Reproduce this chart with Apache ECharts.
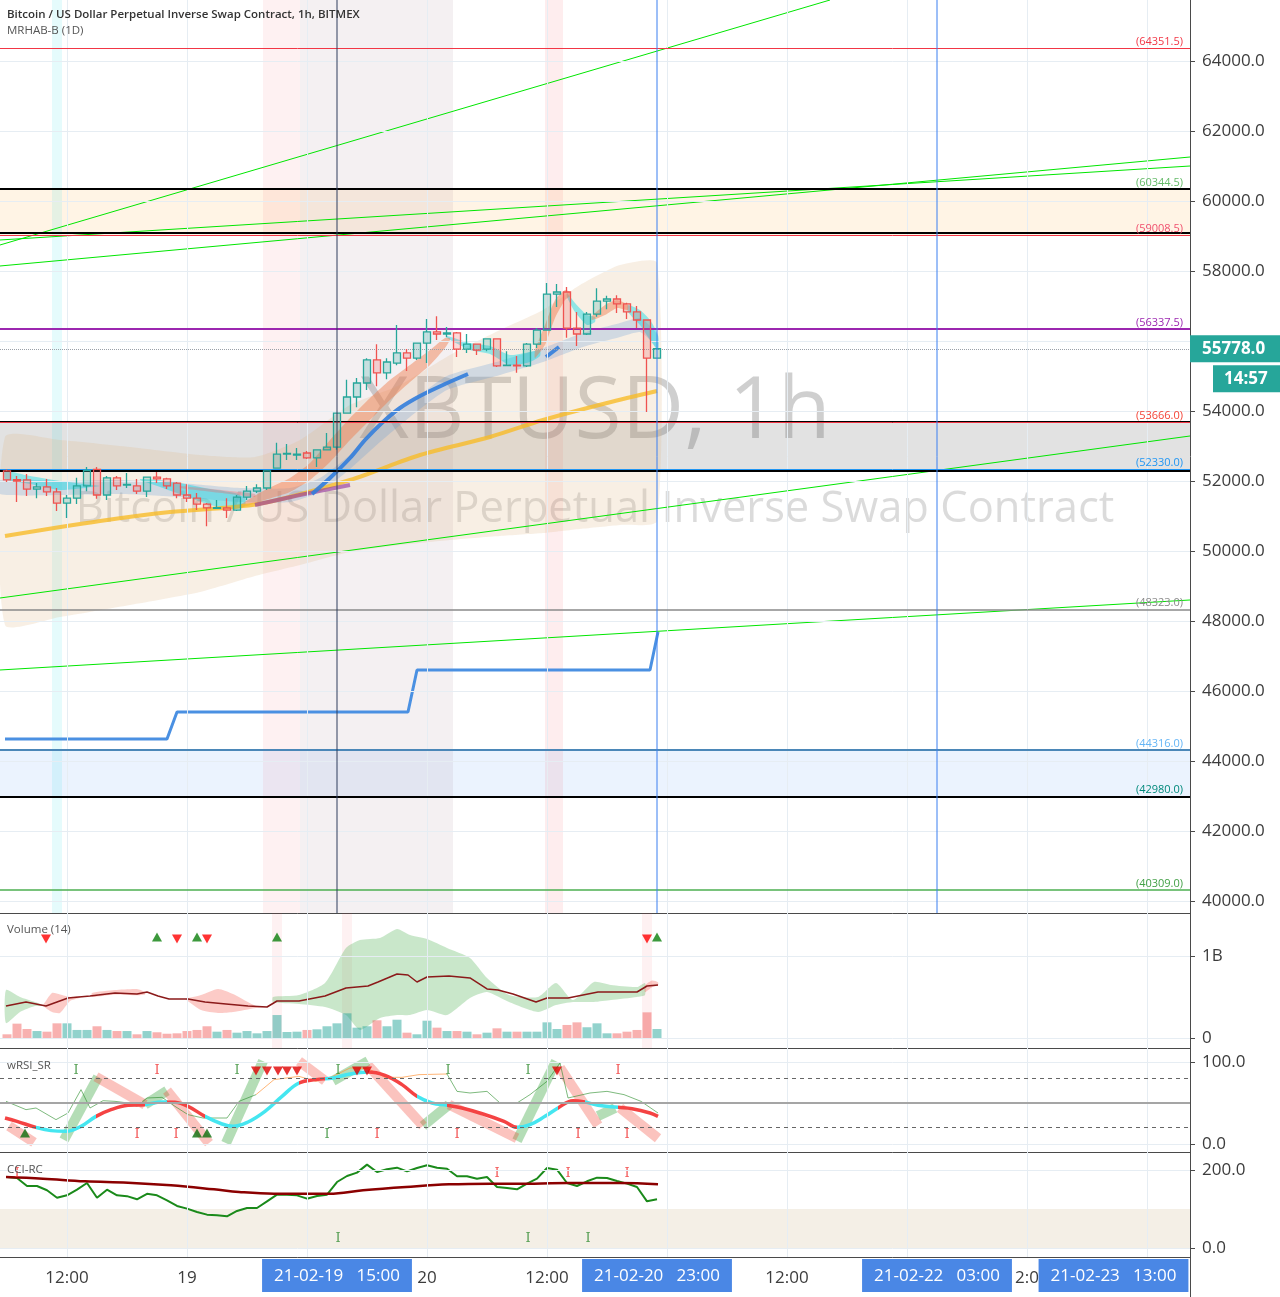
<!DOCTYPE html>
<html><head><meta charset="utf-8">
<script src="https://cdn.jsdelivr.net/npm/echarts@6/dist/echarts.min.js"></script>
<style>html,body{margin:0;padding:0;background:#fff}#c{width:1280px;height:1297px}</style>
</head><body><div id="c"></div>
<script>
// ================= DATA =================
const X_MIN = 5.3, X_MAX = 124.3;            // hours since 2021-02-18 00:00
const firstCandleHour = 6;
// [open, high, low, close]
const ohlc = [
[52290,52330,51970,52030],[52040,52140,51400,52000],[52030,52200,51570,51770],[51770,51940,51510,51830],
[51830,52060,51570,51690],[51690,51800,51140,51370],[51370,51600,50940,51510],[51510,52090,51340,51860],
[51860,52400,51710,52300],[52330,52400,51490,51600],[51600,52140,51460,52090],[52090,52140,51740,51860],
[51880,52230,51800,51900],[51860,52060,51630,51710],[51710,52120,51540,52110],[52110,52260,51940,52060],
[52060,52090,51770,51860],[51940,51970,51510,51600],[51600,51910,51400,51510],[51510,51660,51170,51340],
[51340,51370,50710,51230],[51220,51460,51200,51240],[51230,51510,50940,51170],[51170,51600,51140,51540],
[51540,51860,51460,51710],[51710,51910,51660,51800],[51800,52290,51740,52290],[52370,53090,52370,52770],
[52770,53060,52600,52790],[52740,52940,52600,52770],[52800,52860,52630,52660],[52660,52890,52400,52890],
[52890,53370,52890,52970],[52970,53940,52890,53940],[53940,54890,53940,54400],[54400,54940,54110,54800],
[54800,55510,54600,55460],[55460,55910,54710,55090],[55090,55510,54910,55400],[55370,56460,55310,55660],
[55660,55770,55140,55510],[55510,55940,55460,55940],[55940,56630,55370,56260],[56260,56710,56030,56200],
[56200,56400,56110,56230],[56230,56260,55540,55770],[55770,56200,55660,55910],[55910,55910,55600,55740],
[55770,56060,55710,56060],[56060,56060,55260,55290],[55300,55710,55290,55310],[55310,55570,55090,55290],
[55290,55940,55260,55910],[55910,56370,55800,56310],[56310,57660,56310,57340],[57340,57630,56970,57400],
[57400,57540,56090,56370],[56370,56830,55860,56200],[56200,56830,56170,56770],[56770,57510,56690,57140],
[57140,57290,56910,57200],[57200,57310,56800,57060],[57060,57090,56630,56830],[56830,57000,56370,56600],
[56600,56600,53970,55510],[55510,55800,55510,55778]];
const lastPrice = 55778.0, lastPriceTimer = '14:57';
const volumesM = [45,175,110,85,77,179,179,98,98,143,98,85,85,45,85,70,52,57,85,98,143,77,98,65,85,57,85,280,73,77,
98,106,143,179,301,126,143,216,143,223,65,45,211,126,85,85,77,45,65,118,77,77,77,77,191,110,159,191,131,179,57,57,77,98,313,110];

const priceTicks = [40000,42000,44000,46000,48000,50000,52000,54000,56000,58000,60000,62000,64000];
const priceTickLabelsShown = [40000,42000,44000,46000,48000,50000,52000,54000,58000,60000,62000,64000]; // 56000 sits under the last-price tag
const volTicks = [0, 1e9], volTickLabels = ['0','1B'];
const rsiTicks = [0, 100], cciTicks = [0, 200];
const xTickHours = [12,24,36,48,60,72,84,96,108,120];
const xTickLabels = ['12:00','19','12:00','20','12:00','21','12:00','22','12:00','23'];
const markedTimes = [[39,'21-02-19   15:00'],[71,'21-02-20   23:00'],[99,'21-02-22   03:00'],[116.65,'21-02-23   13:00']];
const verticalLineHours = [39, 71, 99];

// horizontal levels
const levelValues = [64351.5, 60344.5, 59008.5, 56337.5, 53666.0, 52330.0, 48323.0, 44316.0, 42980.0, 40309.0];
const zoneRanges = [[59008.5, 60344.5], [52330.0, 53666.0], [42980.0, 44316.0]];
const zoneEdges = [60344.5, 59090, 53700, 52290, 44330, 42980];
const mainBandHours = [[10.5,11.5],[31.6,35.3],[35.3,50.6],[59.8,61.6]];
const volBandHours = [[32.5,33.5],[39.5,40.5],[69.5,70.5]];

// green trend lines [[h,p],[h,p]]
const trendLines = [
 [[5.3,58743],[88.3,65743]],
 [[5.3,58886],[124.3,61000]],
 [[5.3,58143],[124.3,61257]],
 [[5.3,48657],[124.3,53286]],
 [[5.3,46600],[124.3,48600]]];

// overlay indicator lines [h, price]
const yellowMA = [[5.8,50429],[15.3,50857],[22.3,51114],[31.1,51343],[40.3,52029],[47.3,52743],[54.3,53257],[59.6,53743],[66,54229],[71,54571]];
const purpleMA = [[30.8,51314],[35.3,51600],[40.3,51886]];
const blueMA = [[36.5,51629],[38.3,52086],[40.3,52657],[41.8,53171],[43.6,53686],[45.3,54086],[47.3,54429],[49.8,54771],[52.1,55057]];
const blueMA2 = [[59.9,55543],[61.2,55829]];
const htfStep = [[5.8,44629],[22,44629],[23,45400],[46.1,45400],[47,46600],[70.3,46600],[71.1,47686]];
// bands [h, upper, lower]
const envelope = [[5.8,53257,47886],[11.3,53171,48114],[18.3,52971,48457],[25.3,52743,48829],[30.8,52686,49286],
 [35.3,53171,49600],[40.3,54171,49971],[45.3,54743,50171],[50.3,55600,50314],[55.3,56314,50429],[59.6,56886,50514],
 [63.3,57600,50629],[67.3,58171,50743],[71,58229,50857]];
const slowBand = [[5.3,52029,51629],[11.3,52000,51600],[17.3,52029,51629],[23.3,51943,51543],[29.3,51800,51400],
 [34.3,51800,51400],[37.3,52086,51686],[40.3,52743,52343],[43.3,53514,53114],[46.3,54229,53829],[50,55000,54600],
 [55.3,55429,55029],[59.6,55800,55400],[63.6,56229,55829],[67.3,56514,56114],[69.3,56657,56257],[70.5,56371,55971],[71.1,56143,55743]];
const ribbonsBear = [
 [[5.8,52286,52057],[8.3,52143,51914],[11.3,52000,51743],[13.8,51914,51800],[15.3,51857,51857]],
 [[19.3,52057,52029],[21.3,52029,51829],[23.8,51914,51571],[26.3,51771,51314],[28.8,51657,51200],[29.8,51514,51286]],
 [[50,56143,56086],[52.3,55943,55743],[54.3,55857,55629],[56.3,55600,55314],[58.3,55686,55400],[59.3,55743,55571]],
 [[62,57371,57257],[62.8,57086,56829],[64,56743,56457],[64.8,56686,56543]],
 [[68.1,57029,56829],[69.3,56886,56457],[70.3,56600,56029],[71.1,56171,55743]]];
const ribbonsBull = [
 [[29.3,51314,51229],[31.8,51743,51457],[34.3,52086,51686],[36.3,52514,52029],[38.3,53171,52543],[40.3,53800,53171],
  [42.3,54371,53743],[44.3,54886,54314],[46.3,55314,54829],[48.3,55743,55314],[49.8,56086,55800],[50.3,56086,56029]],
 [[58.8,55743,55514],[59.8,56457,55886],[60.8,57171,56657],[61.8,57457,57171],[62.3,57400,57286]],
 [[64.5,56714,56600],[65.8,57029,56743],[67,57171,56943],[68.1,57029,56886]]];
const ribbonSalmon = [[23.3,51857,51800],[28.3,51714,51629],[30.8,51629,51543]];

// volume pane
const volMA = [[5.9,390],[7.9,439],[9.9,390],[12.1,488],[14.3,512],[16.8,549],[19,537],[20,561],[21.1,512],[22.2,476],
 [24.1,476],[25.8,439],[27.9,415],[30.1,390],[32,378],[33,451],[35.2,451],[37.8,512],[39.9,610],[42.1,634],[43.1,683],
 [45,780],[46.1,768],[47,683],[48,744],[50.2,756],[52.3,732],[54,598],[55.1,585],[56.6,537],[58.9,439],[60,488],
 [62.1,488],[65.1,561],[69,561],[70,634],[71.1,646]];
const volBandsUp = [
 [[5.9,585,183],[7.3,500,317],[8.8,439,390],[9.6,402,390]],
 [[32.6,500,439],[35.2,524,415],[37.8,671,378],[39.9,1098,280],[41.3,1195,98],[43.3,1220,244],[45,1329,280],
  [46.3,1256,280],[48,1207,341],[50,1098,280],[52.3,976,488],[54,732,561],[56.2,524,439],[59.1,500,317],
  [60.9,671,402],[62.6,463,439],[64.7,683,439],[66.4,646,463],[69,622,500],[69.8,671,524]]];
const volBandsDown = [
 [[9.6,400,390],[10.5,549,317],[11.3,530,305],[12.3,500,450],[13.3,512,490]],
 [[14.5,549,500],[16.8,585,530],[19,598,520],[19.8,561,530]],
 [[23.8,476,476],[25.4,524,341],[27.1,598,305],[28.6,537,317],[30.9,390,366],[32,378,378]],
 [[69.8,640,560],[70.5,700,620],[71.1,680,640]]];
const volSignalsUp = [21, 25, 33, 71];
const volSignalsDown = [9.9, 23, 26, 70];

// wRSI pane
const wrsi = [[5.8,31.7],[7,27.6],[8.9,20.3],[10.4,16.3],[11.9,15.4],[13.4,21.5],[14.9,33.7],[16.4,41.9],[18.1,47.2],
 [19.8,48],[21.5,51.2],[22.8,50.8],[24.1,45.9],[25.8,33.7],[27.5,24.4],[28.6,21.5],[30.1,26.8],[31.8,39.8],[33.5,58.1],
 [35.2,74.4],[36.9,78.5],[38.6,80.5],[40.3,85.4],[42.1,87.8],[43.8,83.7],[45.5,72.4],[47,58.1],[48.5,50],[50,47.2],
 [51.5,43.9],[53.6,36.6],[55.7,27.6],[57,20.3],[58.3,23.6],[59.8,33.7],[61.1,43.9],[62.6,52.8],[63.8,51.2],[65.1,47.2],
 [67.1,44.7],[68.5,43.1],[70.3,37.8],[71.1,33.7]];
const wrsiStates = [[5,8.9,'dn'],[8.9,14.9,'up'],[14.9,19.8,'dn'],[19.8,22,'up'],[22,25.8,'dn'],[25.8,35.2,'up'],
 [35.2,37.8,'dn'],[37.8,42.1,'up'],[42.1,47,'dn'],[47,50,'up'],[50,57,'dn'],[57,61.1,'up'],[61.1,63.8,'dn'],
 [63.8,67.1,'up'],[67.1,72,'dn']];
const wrsiThinGreen1 = [[5.9,52],[7.9,41.9],[8.9,43.9],[10.9,29.7],[12.1,37.8],[13.4,66.3],[14.3,43.9],[15.6,52.8],
 [16.8,52],[18.1,50],[19,45.9],[20,56.1],[21.5,56.9],[22.8,45.9],[24.1,35.8],[25.6,31.7],[28,31.7],[29.2,52],[30.9,60.2]];
const wrsiThinOrange = [[30.9,60.2],[32.7,78.5],[35.2,82.5],[36.9,76.4],[38.6,82.5],[40.3,92.7],[42.1,91.9],[43.8,81.3],
 [45.5,81.3],[47.2,84.6],[50,85.4]];
const wrsiThinGreen2 = [[50,85.4],[51,64.2],[52.3,62.2],[54,64.2],[55.3,50],[57,50],[58.3,60.2],[60,76.4],[61.3,98.8],
 [62.1,56.1],[64.3,62.2],[66,64.2],[67.7,60.2],[69.4,52],[71.1,37.8]];
const wrsiRibbonsUp = [[[11.7,5],[15.1,82]],[[19.8,48],[22,65]],[[27.9,1],[31.6,101]],[[38.6,77],[42.1,101]],
 [[47.6,22],[50.2,48]],[[57,4],[60.9,101]],[[65.1,34],[66.8,44]]];
const wrsiRibbonsDown = [[[6.2,22],[8.7,2]],[[14.9,82],[19.8,48]],[[22,65],[26.2,1]],[[35.2,101],[37.8,77]],
 [[42.1,96],[47.6,22]],[[50.2,48],[57,7]],[[61.3,93],[65.1,23]],[[67.3,44],[71.1,7]]];
const wrsiLevels = {upper:80, mid:50, lower:20};
const wrsiTriUp = [7.8, 25, 26];
const wrsiTriDown = [30.9, 32, 33.1, 34, 35, 41, 42, 61];
const wrsiTopGreenI = [12.9, 29, 39.1, 50.1, 58.1];
const wrsiTopRedI = [21, 67.1];
const wrsiBotRedI = [19, 22.9, 43, 51, 63.1, 68];
const wrsiBotGreenI = [38];

// CCI pane
const cciGreen = [182,179.5,159,159,148,129,135,149.6,166.7,129,149.6,135,133,124.8,139,135,122,107.7,100.9,92.3,
 85.5,83.8,81.2,94.9,102.6,102.6,119.7,136.8,136.8,135,126.5,133.3,136.8,169.2,184.6,193.2,213.7,194.9,201.7,206,
 196.6,205.1,212,206,203.4,183.8,183.8,177.8,182,156.4,153.8,150.4,165,177.8,205.1,200.8,166.7,159,171,180.3,
 179.5,171.8,165,156.4,119.7,124.8];
const cciSignal = [[5.9,182],[9.6,177.8],[13.8,170.9],[18.1,167.5],[22.4,160.7],[26.7,150.4],[29.2,143.6],[32.7,139.3],
 [35.2,139.3],[38.2,139.3],[41.6,148],[45.9,156.4],[50.2,163.2],[54.4,165],[58.7,165],[62.1,166.7],[67.3,166.7],[71.1,163.2]];
const cciZone = [0, 100];
const cciTopRedI = [7, 55, 62.1, 68];
const cciBotGreenI = [39.1, 58.1, 64.1];

// ================= CHART =================
const FONT = '"Open Sans","Noto Sans",Arial,sans-serif';
const C_UP = '#26a69a', C_DN = '#ef5350';
const NONE = 'rgba(0,0,0,0)';
const candleHours = ohlc.map((_, i) => firstCandleHour + i);
const yRanges = [[39657, 65743], [-0.12195e9, 1.5244e9], [-9.756, 117.07], [-23.08, 246.15]];
const grids = [
  {left:0, right:90, top:0, height:913},
  {left:0, right:90, top:913, height:135},
  {left:0, right:90, top:1048, height:104},
  {left:0, right:90, top:1152, height:105}];
grids.forEach(g => { g.outerBoundsMode = 'none'; g.containLabel = false; });

function xAx(i) {
  return {type:'value', gridIndex:i, min:X_MIN, max:X_MAX,
    axisLine:{show:true, onZero:false, lineStyle:{color:'#4a4a4a', width:1}},
    axisTick:{show:false}, splitLine:{show:false},
    axisLabel: i === 3 ? {show:true, customValues:xTickHours,
      formatter:v => xTickLabels[xTickHours.indexOf(Math.round(v))] || '',
      color:'#3c3c3c', fontSize:17, fontFamily:FONT, margin:13} : {show:false}};
}
function yAx(i, ticks, labelTicks, fmt) {
  return {type:'value', gridIndex:i, position:'right', min:yRanges[i][0], max:yRanges[i][1],
    axisLine:{show:true, onZero:false, lineStyle:{color:'#4a4a4a', width:1}},
    axisTick:{show:true, customValues:ticks, length:5, lineStyle:{color:'#4a4a4a'}},
    axisLabel:{show:true, customValues:labelTicks, formatter:fmt, color:'#3c3c3c', fontSize:17, fontFamily:FONT, margin:12},
    splitLine:{show:false}};
}
const GRIDLINE = {color:'#e6edf3', width:1, type:'solid'};
const S = [];
function base(i, z, extra) {
  return Object.assign({type:'line', xAxisIndex:i, yAxisIndex:i, data:[[X_MIN, yRanges[i][0]]], symbol:'none',
    lineStyle:{color:NONE, width:0}, silent:true, z:z}, extra);
}
function gridLines(i, yVals) {
  return {silent:true, symbol:['none','none'], lineStyle:GRIDLINE, label:{show:false}, animation:false,
    data: xTickHours.map(h => ({xAxis:h})).concat(yVals.map(v => ({yAxis:v})))};
}
function band(i, pts, color, z) {
  return {type:'custom', xAxisIndex:i, yAxisIndex:i, z:z, silent:true, clip:true,
    data: pts.map(p => [p[0], p[1], p[2]]), encode:{x:0, y:[1,2]},
    renderItem:(params, api) => {
      if (params.dataIndex !== 0) return null;
      const top = pts.map(p => api.coord([p[0], p[1]]));
      const bot = pts.map(p => api.coord([p[0], p[2]])).reverse();
      return {type:'polygon', shape:{points: top.concat(bot), smooth:0.2}, style:{fill:color}};
    }};
}
function line(i, data, color, width, z, extra) {
  const ls = {width:width, cap:'butt'};
  if (color) ls.color = color;
  return Object.assign({type:'line', xAxisIndex:i, yAxisIndex:i, data:data, symbol:'none', silent:true, z:z,
    lineStyle:ls}, extra || {});
}
function marks(i, hours, yv, glyph, color, z, size) {
  const isTri = glyph === 'up' || glyph === 'down';
  return {type:'scatter', xAxisIndex:i, yAxisIndex:i, z:z, silent:true,
    data: hours.map(h => [h, yv]),
    symbol: isTri ? 'triangle' : 'rect', symbolSize: isTri ? (size || [10,9]) : 1,
    symbolRotate: glyph === 'down' ? 180 : 0,
    itemStyle:{color: isTri ? color : NONE},
    label: isTri ? {show:false} : {show:true, position:'inside', formatter:'I', color:color,
      fontSize:13, fontFamily:'"DejaVu Serif","Liberation Serif",serif'}};
}

// ---- main pane ----
const zoneColors = ['rgba(255,152,0,0.10)', 'rgba(110,110,110,0.20)', 'rgba(33,120,243,0.09)'];
const bandColors = ['rgba(0,220,230,0.10)', 'rgba(242,54,69,0.07)', 'rgba(170,140,155,0.13)', 'rgba(242,54,69,0.09)'];
S.push(base(0, 0, {
  markArea:{silent:true, data:
    zoneRanges.map((r,k) => [{yAxis:r[0], itemStyle:{color:zoneColors[k]}}, {yAxis:r[1]}])
    .concat(mainBandHours.map((b,k) => [{xAxis:b[0], itemStyle:{color:bandColors[k]}}, {xAxis:b[1]}]))},
  markLine: gridLines(0, priceTicks)}));
S.push(band(0, envelope, 'rgba(225,180,130,0.22)', 1));
S.push(band(0, slowBand, 'rgba(90,150,215,0.25)', 1));
ribbonsBear.forEach(r => S.push(band(0, r, 'rgba(0,215,230,0.42)', 1)));
ribbonsBull.forEach(r => S.push(band(0, r, 'rgba(240,120,70,0.45)', 1)));
S.push(band(0, ribbonSalmon, 'rgba(240,100,100,0.35)', 1));
trendLines.forEach(t => S.push(line(0, t, '#00e600', 1, 2)));
S.push(line(0, yellowMA, 'rgba(247,188,40,0.8)', 4, 2, {smooth:0.3}));
S.push(line(0, purpleMA, 'rgba(150,60,160,0.65)', 4, 2, {smooth:0.3}));
S.push(line(0, blueMA, 'rgba(50,125,220,0.9)', 4, 2, {smooth:0.3}));
S.push(line(0, blueMA2, 'rgba(50,125,220,0.9)', 4, 2));
S.push(line(0, htfStep, '#4a90e2', 3, 2));
// vertical marker lines, drawn through the time scale over the full price range
const vLineColors = ['#2f3d5c', '#3a7ff0', '#3a7ff0'];
verticalLineHours.forEach((h,k) => S.push(line(0, [[h, yRanges[0][0]], [h, yRanges[0][1]]], vLineColors[k], 1, 6)));
// levels
const levelLabelColors = ['#f23645','#66bb6a','#f0506e','#9c27b0','#f44336','#2196f3','#8a8a8a','#64b5f6','#00897b','#43a047'];
const levelLineColors = ['#f23645',null,'#f23645','#9c27b0','#f23645','#2196f3','#8a8a8a','#64b5f6',null,'#4caf50'];
const levelLineWidths = [1,1,1,2,1,1,1.5,1.5,1,1.5];
const levelItems = levelValues.map((v,k) => ({yAxis:v,
  lineStyle:{color: levelLineColors[k] || NONE, width: levelLineWidths[k], type:'solid'},
  label:{show:true, position:'insideEndTop', formatter:'(' + v.toFixed(1) + ')', color:levelLabelColors[k],
    fontSize:11, fontFamily:FONT, distance:[7,1]}}));
const edgeItems = zoneEdges.map(v => ({yAxis:v, lineStyle:{color:'#000', width:2, type:'solid'}, label:{show:false}}));
S.push(base(0, 6, {markLine:{silent:true, symbol:['none','none'], animation:false,
  data: edgeItems.concat(levelItems)}}));
// candles
S.push({type:'candlestick', xAxisIndex:0, yAxisIndex:0, z:5, barWidth:7, silent:true,
  dimensions:['h','open','close','low','high'], encode:{x:'h', y:['open','close','low','high']},
  data: ohlc.map((d,i) => [candleHours[i], d[0], d[3], d[2], d[1]]),
  itemStyle:{color:'rgba(38,166,154,0.22)', color0:'rgba(239,83,80,0.22)', borderColor:C_UP, borderColor0:C_DN, borderWidth:1.3},
  markLine:{silent:true, symbol:['none','none'], animation:false, data:[
    {yAxis:lastPrice, lineStyle:{color:'#9aa0a8', type:'dotted', width:1},
     label:{show:true, position:'end', distance:0, formatter:lastPrice.toFixed(1), backgroundColor:C_UP, color:'#fff',
       fontSize:17, fontWeight:'bold', fontFamily:FONT, lineHeight:19, padding:[4,15,4,12]}},
    {yAxis:lastPrice, lineStyle:{color:NONE, width:0},
     label:{show:true, position:'end', distance:0, offset:[23,30], formatter:lastPriceTimer, backgroundColor:C_UP, color:'#fff',
       fontSize:17, fontWeight:'bold', fontFamily:FONT, lineHeight:19, padding:[4,13,4,11]}}]}});

// ---- volume pane ----
S.push(base(1, 0, {
  markArea:{silent:true, data: volBandHours.map(b => [{xAxis:b[0], itemStyle:{color:'rgba(242,54,69,0.07)'}}, {xAxis:b[1]}])},
  markLine: gridLines(1, volTicks)}));
const volToUnits = arr => arr.map(p => [p[0], p[1]*1e6, p[2]*1e6]);
volBandsUp.forEach(b => S.push(band(1, volToUnits(b), 'rgba(76,175,80,0.30)', 1)));
volBandsDown.forEach(b => S.push(band(1, volToUnits(b), 'rgba(244,67,54,0.28)', 1)));
S.push({type:'bar', xAxisIndex:1, yAxisIndex:1, barWidth:9, z:2, silent:true,
  data: volumesM.map((v,i) => ({value:[candleHours[i], v*1e6],
    itemStyle:{color: ohlc[i][3] >= ohlc[i][0] ? 'rgba(38,166,154,0.5)' : 'rgba(239,83,80,0.45)'}}))});
S.push(line(1, volMA.map(p => [p[0], p[1]*1e6]), '#8b1a1a', 1.5, 3));
S.push(marks(1, volSignalsUp, 1.232e9, 'up', '#0b800b', 4));
S.push(marks(1, volSignalsDown, 1.207e9, 'down', '#ff0000', 4));

// ---- wRSI pane ----
S.push(base(2, 0, {markLine: gridLines(2, rsiTicks)}));
S.push(base(2, 1, {markLine:{silent:true, symbol:['none','none'], label:{show:false}, animation:false, data:[
  {yAxis:wrsiLevels.upper, lineStyle:{color:'#666', type:[4,4], width:1}},
  {yAxis:wrsiLevels.lower, lineStyle:{color:'#666', type:[4,4], width:1}},
  {yAxis:wrsiLevels.mid, lineStyle:{color:'#a5a5a5', type:'solid', width:2}}]}}));
wrsiRibbonsUp.forEach(r => S.push(line(2, r, 'rgba(76,175,80,0.42)', 10, 1)));
wrsiRibbonsDown.forEach(r => S.push(line(2, r, 'rgba(244,67,54,0.32)', 10, 1)));
S.push(line(2, wrsiThinGreen1, 'rgba(40,140,40,0.6)', 1, 2));
S.push(line(2, wrsiThinOrange, 'rgba(255,150,60,0.7)', 1, 2));
S.push(line(2, wrsiThinGreen2, 'rgba(40,140,40,0.6)', 1, 2));
const wrsiIdx = S.length;
S.push(line(2, wrsi, null, 3.5, 3, {smooth:0.4}));
S.push(marks(2, wrsiTriUp, 13.4, 'up', '#0b6e0b', 4));
S.push(marks(2, wrsiTriDown, 89, 'down', '#e00000', 4));
S.push(marks(2, wrsiTopGreenI, 89, 'I', '#2e8b2e', 4));
S.push(marks(2, wrsiTopRedI, 89, 'I', '#f03030', 4));
S.push(marks(2, wrsiBotRedI, 12, 'I', '#f03030', 4));
S.push(marks(2, wrsiBotGreenI, 12, 'I', '#2e8b2e', 4));

// ---- CCI pane ----
S.push(base(3, 0, {
  markArea:{silent:true, data:[[{yAxis:cciZone[0], itemStyle:{color:'rgba(200,175,130,0.2)'}}, {yAxis:cciZone[1]}]]},
  markLine: gridLines(3, cciTicks)}));
S.push(line(3, cciGreen.map((v,i) => [candleHours[i], v]), '#1a8a1a', 2, 3));
S.push(line(3, cciSignal, '#8b0000', 2.5, 3, {smooth:0.4}));
S.push(marks(3, cciTopRedI, 190, 'I', '#f03030', 4));
S.push(marks(3, cciBotGreenI, 23, 'I', '#2e8b2e', 4));
// time-axis highlight labels
S.push(base(3, 8, {markLine:{silent:true, symbol:['none','none'], animation:false,
  data: markedTimes.map(m => ({xAxis:m[0], lineStyle:{color:NONE, width:0},
    label:{show:true, position:'start', distance:2, formatter:m[1], backgroundColor:'#4a87e5', color:'#fff',
      fontSize:17, fontFamily:FONT, lineHeight:20, padding:[7,12,6,12]}}))}}));

const graphic = [
  {type:'text', x:595, y:413, z:0, silent:true, style:{text:'XBTUSD, 1h', font:'86px "Open Sans"', fill:'rgba(110,110,110,0.33)', align:'center', verticalAlign:'middle'}},
  {type:'text', x:595, y:510, z:0, silent:true, style:{text:'Bitcoin / US Dollar Perpetual Inverse Swap Contract', font:'43.5px "Open Sans"', fill:'rgba(110,110,110,0.25)', align:'center', verticalAlign:'middle'}},
  {type:'text', x:7, y:15, z:100, silent:true, style:{text:'Bitcoin / US Dollar Perpetual Inverse Swap Contract, 1h, BITMEX', font:'600 11.5px "Open Sans"', fill:'#333', verticalAlign:'middle'}},
  {type:'text', x:7, y:31, z:100, silent:true, style:{text:'MRHAB-B (1D)', font:'11.5px "Open Sans"', fill:'#555', verticalAlign:'middle'}},
  {type:'text', x:7, y:930, z:100, silent:true, style:{text:'Volume (14)', font:'11.5px "Open Sans"', fill:'#555', verticalAlign:'middle'}},
  {type:'text', x:7, y:1066, z:100, silent:true, style:{text:'wRSI_SR', font:'11.5px "Open Sans"', fill:'#555', verticalAlign:'middle'}},
  {type:'text', x:7, y:1170, z:100, silent:true, style:{text:'CCI-RC', font:'11.5px "Open Sans"', fill:'#555', verticalAlign:'middle'}},
  {type:'line', z:100, silent:true, shape:{x1:1190.5, y1:1257, x2:1190.5, y2:1297}, style:{stroke:'#4a4a4a', lineWidth:1}}
];

const chart = echarts.init(document.getElementById('c'), null, {renderer:'canvas'});
chart.setOption({
  animation:false, backgroundColor:'#ffffff',
  grid: grids,
  xAxis: [0,1,2,3].map(xAx),
  yAxis: [
    yAx(0, priceTicks, priceTickLabelsShown, v => v.toFixed(1)),
    yAx(1, volTicks, volTicks, v => volTickLabels[volTicks.indexOf(v)] || ''),
    yAx(2, rsiTicks, rsiTicks, v => v.toFixed(1)),
    yAx(3, cciTicks, cciTicks, v => v.toFixed(1))],
  visualMap:[{type:'piecewise', show:false, seriesIndex:wrsiIdx, dimension:0,
    pieces: wrsiStates.map(s => ({gte:s[0], lt:s[1], color: s[2] === 'up' ? '#45e6f0' : '#f44343'}))}],
  graphic: graphic,
  series: S
});
</script></body></html>
